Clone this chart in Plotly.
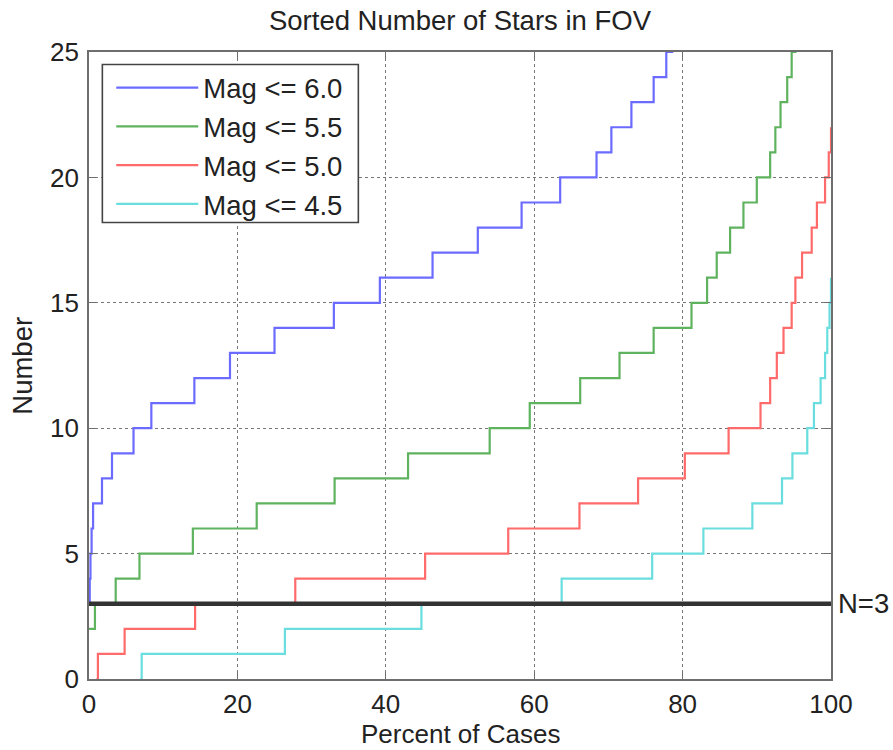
import plotly.graph_objects as go

# ---- data (x = percent of cases where the count steps up to the level) ----
pct_mag60 = [0, 0.1, 0.2, 0.35, 0.55, 1.75, 3.1, 6.0, 8.4, 14.2, 19.0, 25.0, 33.0,
             39.2, 46.3, 52.4, 58.3, 63.5, 68.4, 70.4, 73.1, 76.1, 77.8, 78.6]
num_mag60 = list(range(3, 27))

pct_mag55 = [0, 0.8, 3.6, 6.8, 14.0, 22.6, 33.1, 43.0, 54.0, 59.4, 66.2, 71.5, 76.1,
             81.2, 83.3, 84.6, 86.4, 88.2, 90.0, 91.8, 92.5, 93.2, 94.1, 94.7, 95.2]
num_mag55 = list(range(2, 27))

pct_mag50 = [1.0, 1.2, 4.8, 14.3, 27.8, 45.3, 56.5, 66.1, 74.0, 80.3, 86.2, 90.5,
             91.8, 92.7, 93.6, 94.7, 95.2, 96.1, 97.4, 98.1, 99.2, 99.7, 100]
num_mag50 = list(range(0, 23))

pct_mag45 = [6.9, 7.1, 26.4, 44.8, 63.7, 75.9, 82.8, 89.4, 93.4, 94.8, 96.8, 97.7,
             98.6, 99.2, 99.5, 99.8, 100]
num_mag45 = list(range(0, 17))

series_names = ["Mag <= 6.0", "Mag <= 5.5", "Mag <= 5.0", "Mag <= 4.5"]
series_pct = [pct_mag60, pct_mag55, pct_mag50, pct_mag45]
series_num = [num_mag60, num_mag55, num_mag50, num_mag45]
series_colors = ["#6b6bff", "#5fb35f", "#ff6b6b", "#6adede"]

threshold_n = 3
x_ticks = [0, 20, 40, 60, 80, 100]
y_ticks = [0, 5, 10, 15, 20, 25]

FONT = "Liberation Sans, Arial, Helvetica, sans-serif"
FS = 27.5
FS_TICK = 26

fig = go.Figure()
for name, px_, ny, col in zip(series_names, series_pct, series_num, series_colors):
    xs = list(px_)
    ys = list(ny)
    if xs[-1] < 100:
        xs.append(100)
        ys.append(ys[-1])
    fig.add_trace(go.Scatter(x=xs, y=ys, mode="lines", name=name,
                             line=dict(color=col, width=2.2, shape="hv")))

fig.add_trace(go.Scatter(x=[0, 100], y=[threshold_n, threshold_n], mode="lines",
                         line=dict(color="#333333", width=4.5), showlegend=False))

fig.add_annotation(x=100, y=threshold_n, xref="x", yref="y", text="N=3",
                   showarrow=False, xanchor="left", yanchor="middle", xshift=5,
                   font=dict(family=FONT, size=FS, color="#222"))

axis_common = dict(showline=True, linecolor="#6e6e6e", linewidth=1.8, mirror="ticks",
                   ticks="inside", ticklen=7, tickcolor="#6e6e6e", tickwidth=1,
                   showgrid=True, gridcolor="#777", griddash="dot", gridwidth=1,
                   zeroline=False, tickfont=dict(family=FONT, size=FS_TICK, color="#222"))

fig.update_xaxes(range=[0, 100], tickvals=x_ticks, ticklabelstandoff=1, **axis_common)
fig.update_yaxes(range=[0, 25], tickvals=y_ticks, ticklabelstandoff=3, **axis_common)

fig.add_annotation(text="Percent of Cases", xref="paper", yref="paper", x=0.5, y=-0.1133,
                   showarrow=False, yanchor="bottom", borderpad=0,
                   font=dict(family=FONT, size=26, color="#222"))
fig.add_annotation(text="Number", xref="paper", yref="paper", x=-0.09, y=0.5,
                   showarrow=False, textangle=-90, xanchor="center",
                   font=dict(family=FONT, size=FS, color="#222"))

# legend frame (white box with dark border), legend entries drawn on top of it
fig.add_shape(type="rect", xref="paper", yref="paper", x0=0.018, x1=0.363,
              y0=0.728, y1=0.98, layer="above",
              line=dict(color="#444", width=1.6), fillcolor="white")

fig.update_layout(
    width=893, height=750,
    margin=dict(l=89, r=62, t=52, b=71),
    paper_bgcolor="white", plot_bgcolor="white",
    title=dict(text="Sorted Number of Stars in FOV", x=0.5, xref="paper",
               y=1 - 20 / 750, yref="container", yanchor="middle",
               font=dict(family=FONT, size=FS, color="#222")),
    legend=dict(x=0.030, y=0.982, xanchor="left", yanchor="top",
                bgcolor="rgba(0,0,0,0)", borderwidth=0,
                itemwidth=82, font=dict(family=FONT, size=FS, color="#222")),
    showlegend=True,
)

fig.write_html("out.html")
